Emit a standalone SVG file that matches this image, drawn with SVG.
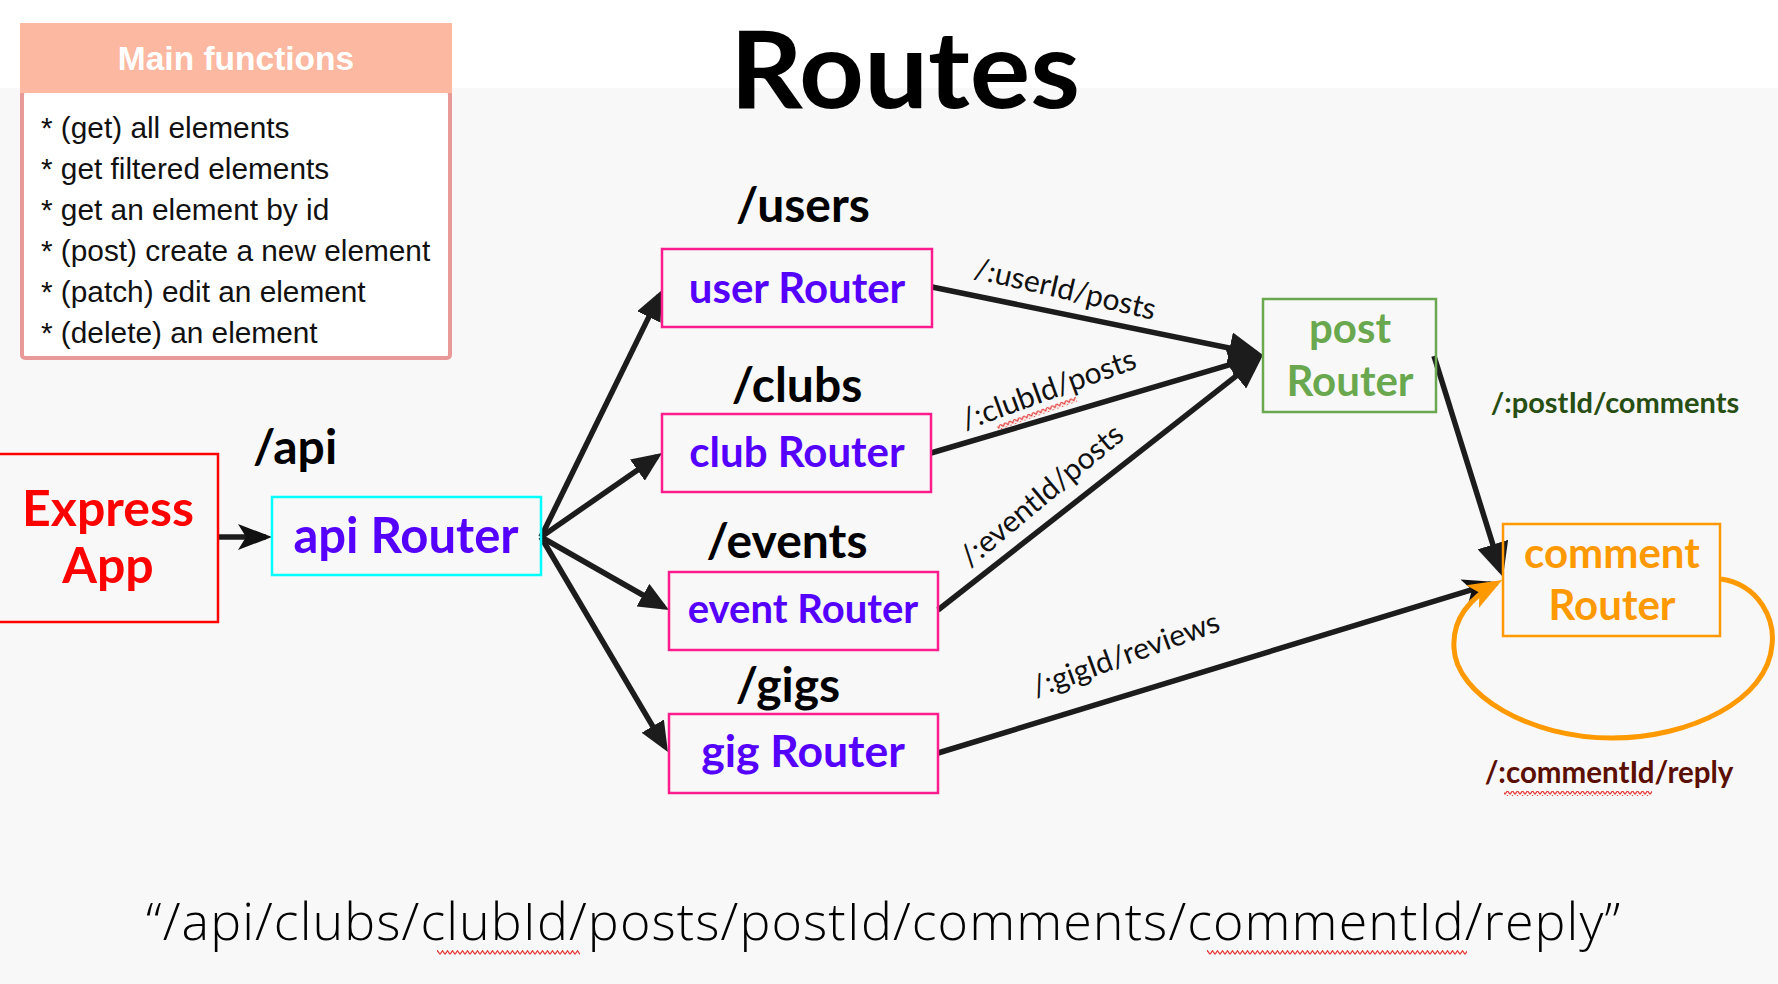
<svg xmlns="http://www.w3.org/2000/svg" width="1778" height="984" viewBox="0 0 1778 984">
<defs>
<style>
.lato{font-family:Lato,"Liberation Sans",sans-serif}
.route{font-family:Lato,"Liberation Sans",sans-serif;font-weight:bold;font-size:48px;fill:#000;text-anchor:middle}
.rlab{font-family:Lato,"Liberation Sans",sans-serif;font-weight:bold;font-size:42px;fill:#5500ff;text-anchor:middle}
.pbox{fill:none;stroke:#ff1c8d;stroke-width:2.5}
.elab{font-family:Lato,"Liberation Sans",sans-serif;font-size:30px;fill:#111;text-anchor:middle}
.conn{fill:none;stroke:#1c1c1c;stroke-width:5.5}
.list{font-family:"Liberation Sans",Arial,sans-serif;font-size:29.8px;fill:#111}
</style>
<marker id="tri" markerUnits="userSpaceOnUse" markerWidth="32" markerHeight="26" refX="24" refY="13" orient="auto" viewBox="0 0 32 26"><path d="M0,0 L30,13 L0,26 z" fill="#1c1c1c"/></marker>
<marker id="big" markerUnits="userSpaceOnUse" markerWidth="36" markerHeight="32" refX="28" refY="16" orient="auto" viewBox="0 0 36 32"><path d="M0,0 L34,16 L0,32 z" fill="#1c1c1c"/></marker>
<marker id="chev" markerUnits="userSpaceOnUse" markerWidth="36" markerHeight="28" refX="28" refY="13" orient="auto" viewBox="0 0 36 28"><path d="M0,0 L34,13 L0,26 L8,13 z" fill="#111"/></marker>
<marker id="ochev" markerUnits="userSpaceOnUse" markerWidth="36" markerHeight="28" refX="28" refY="13" orient="auto" viewBox="0 0 36 28"><path d="M0,0 L34,13 L0,26 L8,13 z" fill="#ff9900"/></marker>
<pattern id="sq" width="5" height="5" patternUnits="userSpaceOnUse"><path d="M0,4.3 L2.5,0.7 L5,4.3" fill="none" stroke="#e53935" stroke-width="1.2"/></pattern>
</defs>

<rect x="0" y="0" width="1778" height="984" fill="#f8f8f8"/>
<rect x="0" y="0" width="1778" height="88" fill="#ffffff"/>

<text x="905" y="108" font-family="Lato, 'Liberation Sans', sans-serif" font-weight="bold" font-size="108" text-anchor="middle" fill="#000" textLength="350" lengthAdjust="spacingAndGlyphs">Routes</text>

<g id="main-functions">
<rect x="22" y="91" width="428" height="267" rx="3" fill="#ffffff" stroke="#ea9999" stroke-width="4"/>
<rect x="20" y="23" width="432" height="70" fill="#fcb8a0"/>
<text x="236" y="70" font-family="'Liberation Sans', Arial, sans-serif" font-weight="bold" font-size="33.5" fill="#ffffff" text-anchor="middle">Main functions</text>
<text class="list" x="41" y="138">* (get) all elements</text>
<text class="list" x="41" y="179">* get filtered elements</text>
<text class="list" x="41" y="220">* get an element by id</text>
<text class="list" x="41" y="261">* (post) create a new element</text>
<text class="list" x="41" y="302">* (patch) edit an element</text>
<text class="list" x="41" y="343">* (delete) an element</text>
</g>

<g id="connectors">
<line class="conn" x1="218" y1="537" x2="266" y2="537" marker-end="url(#chev)"/>
<line class="conn" x1="541" y1="537" x2="659.4" y2="295.4" marker-end="url(#tri)"/>
<line class="conn" x1="541" y1="537" x2="657.1" y2="456.4" marker-end="url(#tri)"/>
<line class="conn" x1="541" y1="537" x2="663.8" y2="607" marker-end="url(#tri)"/>
<line class="conn" x1="541" y1="537" x2="664.9" y2="746.8" marker-end="url(#tri)"/>
<line class="conn" x1="932" y1="287" x2="1257.1" y2="353.8" marker-end="url(#big)"/>
<line class="conn" x1="931" y1="453" x2="1257.2" y2="356.7" marker-end="url(#big)"/>
<line class="conn" x1="938" y1="610" x2="1258.3" y2="358.7" marker-end="url(#big)"/>
<line class="conn" x1="1434" y1="356" x2="1501.2" y2="571.3" marker-end="url(#big)"/>
<line class="conn" x1="938" y1="753" x2="1491" y2="583.8" marker-end="url(#chev)"/>
<path d="M1721,579 C1760,585 1775,620 1772,645 C1768,700 1690,738 1612,738 C1530,738 1456,695 1454,648 C1452,618 1470,598 1497,583" fill="none" stroke="#ff9900" stroke-width="5" marker-end="url(#ochev)"/>

<g transform="translate(1063,299) rotate(13)"><text class="elab" x="0" y="0">/:userId/posts</text></g>
<g transform="translate(1052,399) rotate(-20)"><text class="elab" x="0" y="0">/:clubId/posts</text><rect x="-61" y="6" width="84" height="5" fill="url(#sq)"/></g>
<g transform="translate(1048,503) rotate(-40)"><text class="elab" x="0" y="0">/:eventId/posts</text></g>
<g transform="translate(1129,664) rotate(-20)"><text class="elab" x="0" y="0">/:gigId/reviews</text></g>
<text x="1615" y="413" font-family="Lato, 'Liberation Sans', sans-serif" font-weight="bold" font-size="29" fill="#274e13" text-anchor="middle">/:postId/comments</text>
<text x="1609" y="783" font-family="Lato, 'Liberation Sans', sans-serif" font-weight="bold" font-size="29.5" fill="#5b0f00" text-anchor="middle">/:commentId/reply</text>
<rect x="1504" y="791" width="148" height="5" fill="url(#sq)"/>
</g>

<g id="express-app">
<rect x="-2" y="454" width="220" height="168" fill="none" stroke="#ff0000" stroke-width="2.5"/>
<text x="108" y="526" class="lato" font-weight="bold" font-size="50" fill="#ff0000" text-anchor="middle">Express</text>
<text x="108" y="583" class="lato" font-weight="bold" font-size="50" fill="#ff0000" text-anchor="middle">App</text>
</g>

<g id="api-router">
<text class="route" x="295" y="464">/api</text>
<rect x="272" y="497" width="269" height="78" fill="none" stroke="#00ffff" stroke-width="2.5"/>
<text x="406" y="553" class="lato" font-weight="bold" font-size="49" fill="#5500ff" text-anchor="middle">api Router</text>
</g>

<g id="user-router">
<text class="route" x="803" y="222">/users</text>
<rect class="pbox" x="662" y="249" width="270" height="78"/>
<text class="rlab" x="797" y="303">user Router</text>
</g>

<g id="club-router">
<text class="route" x="797" y="402">/clubs</text>
<rect class="pbox" x="662" y="414" width="269" height="78"/>
<text class="rlab" x="797" y="467">club Router</text>
</g>

<g id="event-router">
<text class="route" x="787" y="558">/events</text>
<rect class="pbox" x="669" y="572" width="269" height="78"/>
<text class="rlab" x="803" y="623" style="font-size:40px">event Router</text>
</g>

<g id="gig-router">
<text class="route" x="788" y="702">/gigs</text>
<rect class="pbox" x="669" y="714" width="269" height="79"/>
<text class="rlab" x="803" y="767" style="font-size:44.5px">gig Router</text>
</g>

<g id="post-router">
<rect x="1263" y="299" width="173" height="113" fill="none" stroke="#6aa84f" stroke-width="2.5"/>
<text x="1350" y="343" class="lato" font-weight="bold" font-size="42" fill="#6aa84f" text-anchor="middle">post</text>
<text x="1350" y="396" class="lato" font-weight="bold" font-size="42" fill="#6aa84f" text-anchor="middle">Router</text>
</g>

<g id="comment-router">
<rect x="1503" y="524" width="217" height="112" fill="none" stroke="#ff9900" stroke-width="2.5"/>
<text x="1612" y="568" class="lato" font-weight="bold" font-size="42" fill="#ff9900" text-anchor="middle">comment</text>
<text x="1612" y="620" class="lato" font-weight="bold" font-size="42" fill="#ff9900" text-anchor="middle">Router</text>
</g>

<g id="example-path">
<text x="146" y="940" font-family="'Open Sans', 'Liberation Sans', sans-serif" font-weight="300" font-size="52" fill="#000" textLength="1474" lengthAdjust="spacing">“/api/clubs/clubId/posts/postId/comments/commentId/reply”</text>
<rect x="437" y="950" width="143" height="5" fill="url(#sq)"/>
<rect x="1207" y="950" width="260" height="5" fill="url(#sq)"/>
</g>
</svg>
